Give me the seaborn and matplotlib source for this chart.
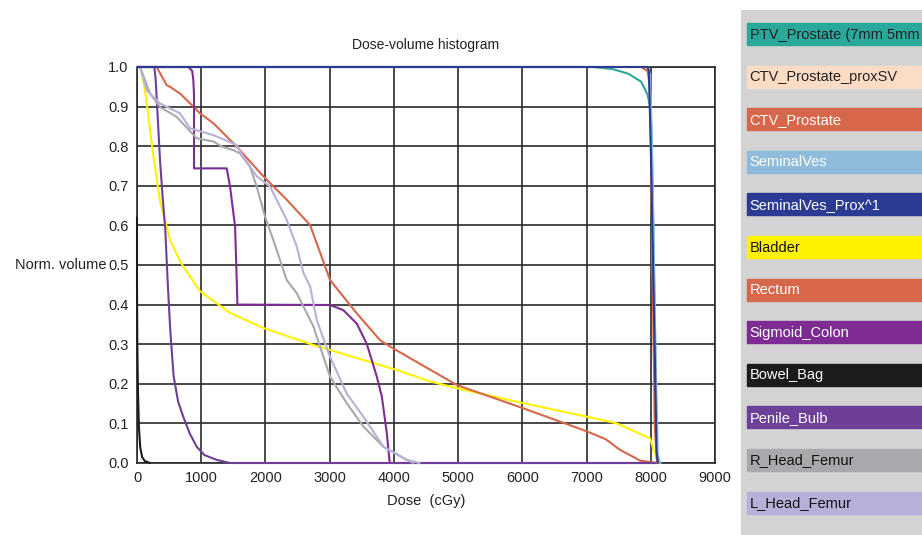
#!/usr/bin/env python3
# coding: utf-8

import matplotlib.pyplot as plt
import matplotlib.patches as mpatches
import seaborn as sns
import pandas as pd
import numpy as np

plt.switch_backend('Agg')

# Structure names, colours and legend text colours (same order as the legend)
structures = ['PTV_Prostate (7mm 5mm', 'CTV_Prostate_proxSV', 'CTV_Prostate',
              'SeminalVes', 'SeminalVes_Prox^1', 'Bladder', 'Rectum',
              'Sigmoid_Colon', 'Bowel_Bag', 'Penile_Bulb', 'R_Head_Femur',
              'L_Head_Femur']
colors = ['#2ba89c', '#fddcc6', '#d6674b', '#8fbcdc', '#2b3a92', '#fff200',
          '#d6674b', '#7e2c93', '#1c1c1c', '#6e3f98', '#a8a9ad', '#b9b0da']
label_colors = ['#222222', '#222222', 'white', 'white', 'white', '#111111',
                'white', 'white', 'white', 'white', '#111111', '#111111']

# Dose (cGy) / normalised volume
ptv_dose = [0, 7100, 7400, 7650, 7850, 7950, 7990, 8010, 8040, 8070, 8095, 8150]
ptv_vol = [1.0, 1.0, 0.995, 0.983, 0.963, 0.93, 0.9, 0.85, 0.6, 0.3, 0.01, 0.0]

ctvsv_dose = [0, 7900, 7960, 7990, 8030, 8070, 8110]
ctvsv_vol = [1.0, 1.0, 0.99, 0.9, 0.5, 0.05, 0.0]

ctv_dose = [0, 7850, 7950, 7990, 8020, 8060, 8100]
ctv_vol = [1.0, 1.0, 0.99, 0.95, 0.6, 0.1, 0.0]

sv_dose = [0, 7950, 7990, 8020, 8070, 8110, 8150]
sv_vol = [1.0, 1.0, 0.98, 0.8, 0.3, 0.02, 0.0]

svp_dose = [0, 7950, 7970, 8000, 8030, 8060, 8090, 8110]
svp_vol = [1.0, 1.0, 0.99, 0.8, 0.55, 0.3, 0.03, 0.0]

bladder_dose = [0, 47, 98, 151, 250, 360, 410, 514, 670, 721, 981, 1449, 1967,
                2746, 3525, 4045, 4564, 4979, 6017, 7004, 7471, 7991, 8043,
                8120]
bladder_vol = [1.0, 1.0, 0.967, 0.91, 0.78, 0.66, 0.63, 0.563, 0.51, 0.496,
               0.434, 0.379, 0.341, 0.298, 0.26, 0.235, 0.206, 0.189, 0.151,
               0.117, 0.1, 0.062, 0.033, 0.0]

rectum_dose = [0, 280, 306, 462, 514, 670, 877, 981, 1189, 1553, 1967, 2331,
               2695, 3006, 3422, 3785, 3941, 4304, 4979, 6017, 7004,
               7300, 7523, 7835, 8095]
rectum_vol = [1.0, 1.0, 1.0, 0.954, 0.95, 0.933, 0.9, 0.883, 0.858, 0.799,
              0.724, 0.665, 0.601, 0.462, 0.378, 0.31, 0.294, 0.26,
              0.197, 0.138, 0.08, 0.06, 0.033, 0.006, 0.0]

sigmoid_dose = [0, 799, 860, 877, 888, 888, 1397, 1449, 1527, 1553, 1563,
                3006, 3214, 3422, 3578, 3734, 3812, 3890, 3930, 3940, 8100]
sigmoid_vol = [1.0, 1.0, 0.99, 0.967, 0.93, 0.744, 0.744, 0.698, 0.597,
               0.462, 0.4, 0.399, 0.386, 0.352, 0.301, 0.218, 0.168, 0.075,
               0.008, 0.0, 0.0]

bowel_dose = [0, 0, 5, 15, 30, 50, 80, 120, 200]
bowel_vol = [0.62, 0.45, 0.3, 0.18, 0.09, 0.04, 0.015, 0.005, 0.0]

penile_dose = [0, 270, 290, 320, 360, 400, 440, 480, 520, 570, 640, 720, 820,
               930, 1050, 1240, 1450, 8100]
penile_vol = [1.0, 1.0, 0.97, 0.88, 0.76, 0.67, 0.59, 0.45, 0.33, 0.22, 0.155,
              0.117, 0.075, 0.041, 0.02, 0.008, 0.0, 0.0]

rfem_dose = [0, 47, 203, 358, 618, 929, 1189, 1319, 1500, 1604, 1760, 1864,
             1994, 2123, 2331, 2487, 2746, 3006, 3266, 3525, 3837, 4201, 4300]
rfem_vol = [1.0, 1.0, 0.933, 0.899, 0.874, 0.82, 0.812, 0.799, 0.79, 0.782,
            0.748, 0.698, 0.622, 0.563, 0.462, 0.429, 0.345, 0.218, 0.151,
            0.092, 0.041, 0.008, 0.0]

lfem_dose = [0, 47, 151, 358, 670, 826, 1189, 1553, 1656, 1864, 2072, 2331,
             2487, 2591, 2695, 2799, 3006, 3266, 3525, 3837, 4201, 4400]
lfem_vol = [1.0, 1.0, 0.941, 0.908, 0.883, 0.845, 0.828, 0.803, 0.774, 0.724,
            0.698, 0.614, 0.547, 0.48, 0.446, 0.361, 0.268, 0.175, 0.117,
            0.041, 0.008, 0.0]

curves = [(ptv_dose, ptv_vol), (ctvsv_dose, ctvsv_vol), (ctv_dose, ctv_vol),
          (sv_dose, sv_vol), (svp_dose, svp_vol), (bladder_dose, bladder_vol),
          (rectum_dose, rectum_vol), (sigmoid_dose, sigmoid_vol),
          (bowel_dose, bowel_vol), (penile_dose, penile_vol),
          (rfem_dose, rfem_vol), (lfem_dose, lfem_vol)]

frames = []
for name, (d, v) in zip(structures, curves):
    frames.append(pd.DataFrame({'structure': name, 'dose': d, 'volume': v}))
dvh = pd.concat(frames, ignore_index=True)
color_map = dict(zip(structures, colors))

sns.set_style('white')
plt.rcParams['font.family'] = ['Liberation Sans', 'DejaVu Sans']

fig = plt.figure(figsize=(9.22, 5.35), dpi=100)
ax = fig.add_axes([137 / 922, 1 - 463 / 535, 578 / 922, 396 / 535])

# draw order: low-dose organs first, targets last so the blue line sits at 1.0
draw_order = structures[5:] + structures[:5]
for name in draw_order:
    sub = dvh[dvh['structure'] == name]
    sns.lineplot(data=sub, x='dose', y='volume', color=color_map[name],
                 estimator=None, sort=False, linewidth=1.5, ax=ax)
for line in ax.lines:
    line.set_clip_on(False)
    line.set_zorder(3)

ax.set_xlim(0, 9000)
ax.set_ylim(0, 1.0)
ax.set_xticks(np.arange(0, 9001, 1000))
ax.set_yticks(np.round(np.arange(0, 1.01, 0.1), 1))
ax.set_yticklabels(['%.1f' % t for t in np.arange(0, 1.01, 0.1)])
ax.grid(True, color='#2a2a2a', linewidth=1.2)
ax.set_axisbelow(True)
for s in ax.spines.values():
    s.set_color('#2a2a2a')
    s.set_linewidth(1.2)
ax.tick_params(length=0, labelsize=10.5, colors='#222222', pad=6)
ax.set_title('Dose-volume histogram', fontsize=10, color='#222222', pad=13)
ax.set_xlabel('Dose  (cGy)', fontsize=10.5, color='#222222', labelpad=6)
ax.set_ylabel('Norm. volume', fontsize=10.5, color='#222222', rotation=0,
              ha='right', va='center')
ax.yaxis.set_label_coords(-0.053, 0.5)

# legend panel at the right
lax = fig.add_axes([741 / 922, 0, 181 / 922, 525 / 535])
lax.set_facecolor('#d3d3d3')
lax.set_xlim(741, 922)
lax.set_ylim(535, 10)
lax.set_xticks([])
lax.set_yticks([])
for s in lax.spines.values():
    s.set_visible(False)
for i, (name, c, tc) in enumerate(zip(structures, colors, label_colors)):
    yc = 34 + i * 42.6
    lax.add_patch(mpatches.Rectangle((746.5, yc - 11), 180, 22, color=c))
    lax.text(749.5, yc + 0.5, name, color=tc, fontsize=10.5, va='center',
             ha='left', clip_on=True)

fig.savefig('out.png', dpi=100)
